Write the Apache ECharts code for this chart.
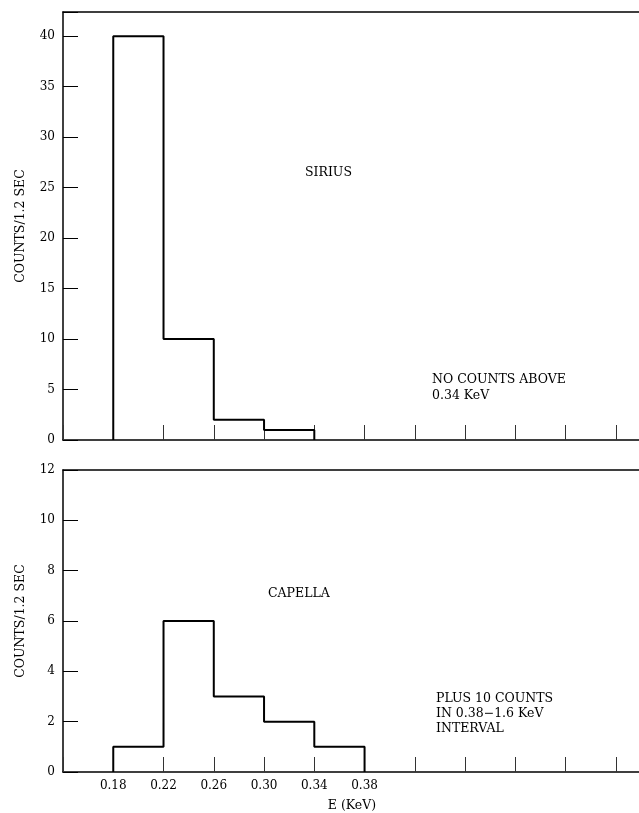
<!DOCTYPE html>
<html>
<head>
<meta charset="utf-8">
<script src="https://cdn.jsdelivr.net/npm/echarts@6/dist/echarts.min.js"></script>
<style>
  html, body { margin: 0; padding: 0; background: #fff; }
  #chart { width: 639px; height: 813px; }
</style>
</head>
<body>
<div id="chart"></div>
<script>
// bin edges (KeV) and counts per 1.2 sec in each bin
const binEdges = [0.18, 0.22, 0.26, 0.30, 0.34, 0.38]
const siriusCounts = [40, 10, 2, 1]
const capellaCounts = [1, 6, 3, 2, 1]
const xTickLabels = ['0.18', '0.22', '0.26', '0.30', '0.34', '0.38']

const FONT = 'DejaVu Serif'

// step outline of a histogram: up at first edge, across each bin, down at last edge
function outline(counts) {
  const pts = [[binEdges[0], 0]]
  counts.forEach((c, i) => pts.push([binEdges[i], c]))
  pts.push([binEdges[counts.length], 0])
  return pts
}

const chart = echarts.init(document.getElementById('chart'))

const xCommon = {
  type: 'value',
  min: 0.14,
  max: 0.60,
  interval: 0.04,
  splitLine: { show: false },
  axisLine: { lineStyle: { color: '#000', width: 1.5 } },
  axisTick: { inside: true, length: 15, lineStyle: { color: '#333', width: 1 } }
}
// top x axis only draws the panel's upper frame line
const xTop = {
  type: 'value', min: 0.14, max: 0.60, position: 'top',
  splitLine: { show: false }, axisTick: { show: false }, axisLabel: { show: false },
  axisLine: { lineStyle: { color: '#000', width: 1.5 } }
}
const yCommon = {
  type: 'value',
  min: 0,
  splitLine: { show: false },
  axisLine: { show: true, lineStyle: { color: '#000', width: 1.5 } },
  axisTick: { show: true, inside: true, length: 15, lineStyle: { color: '#000', width: 1 } },
  nameLocation: 'middle',
  nameGap: 36,
  nameTextStyle: { fontFamily: FONT, fontSize: 12.5, color: '#000' }
}
const lineStyle = { color: '#000', width: 2 }
const textStyle = { fontFamily: FONT, fontSize: 12.5, fill: '#000' }
const tickFont = { fontFamily: FONT, fontSize: 12, color: '#000' }

chart.setOption({
  animation: false,
  backgroundColor: '#fff',
  grid: [
    { left: 63, top: 12, width: 578, height: 428, outerBoundsMode: 'none' },
    { left: 63, top: 470, width: 578, height: 302, outerBoundsMode: 'none' }
  ],
  xAxis: [
    Object.assign({}, xCommon, { gridIndex: 0, axisLabel: { show: false } }),
    Object.assign({}, xCommon, {
      gridIndex: 1,
      name: 'E (KeV)',
      nameLocation: 'middle',
      nameGap: 27,
      nameTextStyle: { fontFamily: FONT, fontSize: 12.5, color: '#000' },
      axisLabel: Object.assign({
        margin: 8,
        formatter: v => {
          const s = v.toFixed(2)
          return xTickLabels.includes(s) ? s : ''
        }
      }, tickFont)
    }),
    Object.assign({}, xTop, { gridIndex: 0 }),
    Object.assign({}, xTop, { gridIndex: 1 })
  ],
  yAxis: [
    Object.assign({}, yCommon, {
      gridIndex: 0, max: 42.4, interval: 5, name: 'COUNTS/1.2 SEC',
      axisLabel: Object.assign({ margin: 8, formatter: v => (v % 5 === 0 ? String(v) : '') }, tickFont)
    }),
    Object.assign({}, yCommon, {
      gridIndex: 1, max: 12, interval: 2, name: 'COUNTS/1.2 SEC',
      axisLabel: Object.assign({ margin: 8 }, tickFont)
    })
  ],
  series: [
    {
      name: 'SIRIUS', type: 'line', step: 'end', xAxisIndex: 0, yAxisIndex: 0,
      data: outline(siriusCounts), symbol: 'none', lineStyle: lineStyle
    },
    {
      name: 'CAPELLA', type: 'line', step: 'end', xAxisIndex: 1, yAxisIndex: 1,
      data: outline(capellaCounts), symbol: 'none', lineStyle: lineStyle
    }
  ],
  graphic: [
    { type: 'text', left: 305, top: 166, style: Object.assign({ text: 'SIRIUS' }, textStyle) },
    { type: 'text', left: 432, top: 372, style: Object.assign({ text: 'NO COUNTS ABOVE\n0.34 KeV', lineHeight: 16 }, textStyle) },
    { type: 'text', left: 268, top: 587, style: Object.assign({ text: 'CAPELLA' }, textStyle) },
    { type: 'text', left: 436, top: 691, style: Object.assign({ text: 'PLUS 10 COUNTS\nIN 0.38\u22121.6 KeV\nINTERVAL', lineHeight: 15 }, textStyle) }
  ]
})
</script>
</body>
</html>
